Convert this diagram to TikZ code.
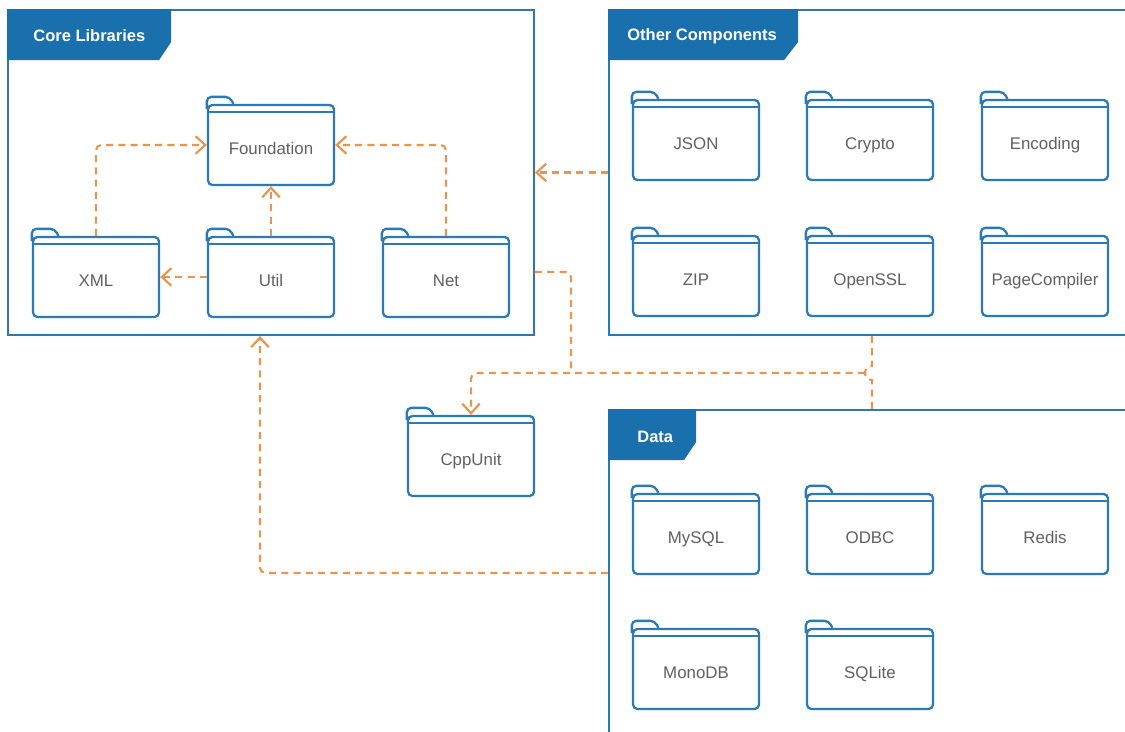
\documentclass[tikz,border=0pt]{standalone}
\usepackage{fontspec}
\setmainfont{Liberation Sans}
\usetikzlibrary{arrows.meta}
\definecolor{pkblue}{HTML}{2B79B7}
\definecolor{hdblue}{HTML}{1A6FAD}
\definecolor{deporange}{HTML}{E8964F}
\definecolor{lblgray}{HTML}{606060}
\tikzset{
  frame/.style={draw=pkblue, line width=1.1pt, inner sep=0pt},
  header/.style={fill=hdblue},
  title/.style={anchor=west, text=white, inner sep=0pt, font=\bfseries\fontsize{9.4}{11}\selectfont},
  folder/.style={draw=pkblue, line width=1.3pt, rounded corners=2.5pt, minimum width=2.52cm, minimum height=1.6cm,
    inner sep=0pt, text height=0.4cm, text depth=0pt, text=lblgray, font=\fontsize{9.6}{11}\selectfont},
  foldline/.style={draw=pkblue, line width=1.3pt},
  dep/.style={draw=deporange, line width=1.25pt, dash pattern=on 4pt off 3pt, rounded corners=3pt},
  deparrow/.style={dep, -{Straight Barb[length=5.5pt, width=10pt]}},
}

\begin{document}
\begin{tikzpicture}[x=0.02cm, y=-0.02cm]  % 1 unit = 1 px, y downwards
  \useasboundingbox (0,0) rectangle (1125,732);
  \clip (0,0) rectangle (1125,732);
  % package frames
  \node[frame, minimum width=10.52cm, minimum height=6.5cm] (core) at (271,172.5) {};
  \node[frame, minimum width=10.7cm, minimum height=6.5cm] (other) at (876.5,172.5) {};
  \node[frame, minimum width=10.7cm, minimum height=7cm] (data) at (876.5,585) {};
  % header tabs
  \fill[header] (core.north west) -- ++(164,0) -- ++(0,33) -- ++(-12,18) -- ++(-152,0) -- cycle;
  \fill[header] (other.north west) -- ++(190,0) -- ++(0,33) -- ++(-14,18) -- ++(-176,0) -- cycle;
  \fill[header] (data.north west) -- ++(88,0) -- ++(0,33) -- ++(-12,18) -- ++(-76,0) -- cycle;
  \node[title] (coretitle) at (33,36) {Core Libraries};
  \node[title] (othertitle) at (627,36) {Other Components};
  \node[title] (datatitle) at (637,437) {Data};
  % core libraries
  \node[folder] (found) at (271,145) {Foundation};
  \node[folder] (xml) at (96,277) {XML};
  \node[folder] (util) at (271,277) {Util};
  \node[folder] (net) at (446,277) {Net};
  % other components
  \node[folder] (json) at (696,140) {JSON};
  \node[folder] (crypto) at (870,140) {Crypto};
  \node[folder] (enc) at (1045,140) {Encoding};
  \node[folder] (zip) at (696,276) {ZIP};
  \node[folder] (ssl) at (870,276) {OpenSSL};
  \node[folder] (pagec) at (1045,276) {PageCompiler};
  % test package
  \node[folder] (cppunit) at (471,456) {CppUnit};
  % data
  \node[folder] (mysql) at (696,534) {MySQL};
  \node[folder] (odbc) at (870,534) {ODBC};
  \node[folder] (redis) at (1045,534) {Redis};
  \node[folder] (mono) at (696,669) {MonoDB};
  \node[folder] (sqlite) at (870,669) {SQLite};
  % folder tabs and inner lines
  \foreach \n in {found,xml,util,net,json,crypto,enc,zip,ssl,pagec,cppunit,mysql,odbc,redis,mono,sqlite}{
    \draw[foldline, rounded corners=2.5pt] ([yshift=-3pt]\n.north west) |- ([xshift=0.46cm, yshift=0.14cm]\n.north west) -- ([xshift=0.53cm]\n.north west);
    \draw[foldline] ([yshift=-0.16cm]\n.north west) -- ([yshift=-0.16cm]\n.north east);
  }
  % dependencies
  \coordinate (jn) at (872,373);
  \draw[deparrow] (xml.north) |- (found.west);
  \draw[deparrow] (util.north) -- (found.south);
  \draw[deparrow] (net.north) |- (found.east);
  \draw[deparrow] (util.west) -- (xml.east);
  \draw[deparrow] (other.west) -- (core.east);
  \draw[dep] (core.east |- 0,272) -| (571,373);
  \draw[deparrow] (865,373) -| (cppunit.north);
  \draw[dep, sharp corners] (other.south -| jn) -- ([yshift=0.14cm]jn) arc[start angle=90, end angle=270, radius=0.14cm] -- (data.north -| jn);
  \draw[deparrow] (data.west |- 0,573) -| (core.south -| 260,0);
\end{tikzpicture}
\end{document}
